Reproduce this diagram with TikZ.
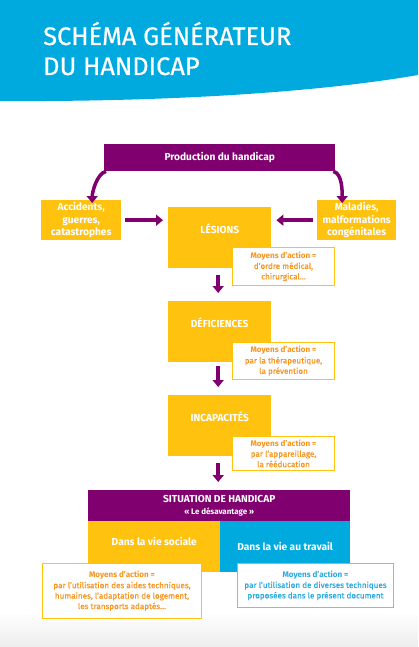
\documentclass[tikz,border=0pt]{standalone}
\usepackage{fontspec}
\setmainfont{Fira Sans}
\newfontfamily\medfont[FakeBold=0.5]{Fira Sans}
\usetikzlibrary{arrows.meta}
\definecolor{cblue}{HTML}{00A9DE}
\definecolor{cyel}{HTML}{FFC20E}
\definecolor{cpur}{HTML}{80006F}
\definecolor{corange}{HTML}{F7941D}
\definecolor{ctxtblue}{HTML}{29A9E0}
\begin{document}
\begin{tikzpicture}[x=1bp,y=-1bp,
  cell/.style={anchor=north west, inner sep=0pt, align=center, text=white,
    font=\bfseries\fontsize{10.2}{12.5}\selectfont},
  ybox/.style={cell, fill=cyel},
  pbox/.style={cell, fill=cpur},
  bbox/.style={cell, fill=cblue},
  stage/.style={ybox, minimum width=103bp, minimum height=61bp, text height=8bp, text depth=16bp},
  moy/.style={anchor=north west, inner sep=0pt, align=center, fill=white, draw=cyel,
    line width=1bp, text=corange, font=\medfont\fontsize{8.1}{10.5}\selectfont},
  arr/.style={draw=cpur, line width=3.5bp, -{Triangle[width=11bp,length=7bp]}}
]
\useasboundingbox (0,0) rectangle (418,647);
\fill[white] (0,0) rectangle (418,647);
\shade[top color=white, bottom color=black!7] (0,612) rectangle (418,647);
\fill[cblue] (0,0) -- (418,0) -- (418,75) .. controls (320,92) and (170,102) .. (0,101) -- cycle;
\node[anchor=base west, text=white, font=\medfont\fontsize{25.5}{30}\selectfont, inner sep=0pt] (t1) at (43,45) {SCHÉMA GÉNÉRATEUR};
\node[anchor=base west, text=white, font=\medfont\fontsize{25.5}{30}\selectfont, inner sep=0pt] (t2) at (43,75) {DU HANDICAP};

\node[pbox, minimum width=231bp, minimum height=27bp] (prod) at (104,144) {Production du handicap};
\node[ybox, minimum width=80bp, minimum height=40bp] (acc) at (41,200) {Accidents,\\guerres,\\catastrophes};
\node[ybox, minimum width=79bp, minimum height=40bp] (mal) at (317,200) {Maladies,\\malformations\\congénitales};

\node[stage] (les) at (168,207) {LÉSIONS};
\node[stage] (def) at (168,301) {DÉFICIENCES};
\node[stage] (inc) at (168,395) {INCAPACITÉS};

\node[moy, minimum width=102bp, minimum height=38bp] (m1) at (232,247) {{\rmfamily\bfseries Moyens d’action =}\\d’ordre médical,\\chirurgical…};
\node[moy, minimum width=102bp, minimum height=37bp] (m2) at (232,342) {{\rmfamily\bfseries Moyens d’action =}\\par la thérapeutique,\\la prévention};
\node[moy, minimum width=102bp, minimum height=34bp] (m3) at (232,436) {{\rmfamily\bfseries Moyens d’action =}\\par l’appareillage,\\la rééducation};

\node[pbox, minimum width=262bp, minimum height=31bp] (sit) at (88,490) {SITUATION DE HANDICAP\\[-1bp]{\fontsize{8}{10}\selectfont « Le désavantage »}};
\node[ybox, minimum width=132bp, minimum height=51bp, text height=8bp, text depth=10bp] (soc) at (88,521) {Dans la vie sociale};
\node[bbox, minimum width=130bp, minimum height=51bp] (trav) at (220,521) {Dans la vie au travail};

\node[moy, minimum width=159bp, minimum height=55bp] (ml) at (42,563) {{\rmfamily\bfseries Moyens d’action =}\\par l’utilisation des aides techniques,\\humaines, l’adaptation de logement,\\les transports adaptés…};
\node[moy, draw=cblue!60, text=ctxtblue, minimum width=156bp, minimum height=44bp] (mr) at (237,563) {{\rmfamily\bfseries Moyens d’action =}\\par l’utilisation de diverses techniques\\proposées dans le présent document};

\draw[arr] ([xshift=2bp]prod.south west) .. controls +(-9,2) and +(0,-11) .. ([xshift=11bp,yshift=-3bp]acc.north);
\draw[arr] ([xshift=-2bp]prod.south east) .. controls +(9,2) and +(0,-11) .. ([xshift=-14.5bp,yshift=-3bp]mal.north);
\draw[arr, shorten <=4bp, shorten >=5bp] (acc.east) -- (acc.east -| les.west);
\draw[arr, shorten <=4bp, shorten >=5bp] (mal.west) -- (mal.west -| les.east);
\draw[arr, shorten <=7bp, shorten >=8bp] ([xshift=-1.5bp]les.south) -- ([xshift=-1.5bp]def.north);
\draw[arr, shorten <=4bp, shorten >=8bp] ([xshift=-1.5bp]def.south) -- ([xshift=-1.5bp]inc.north);
\draw[arr, shorten <=7bp, shorten >=8bp] ([xshift=-1.5bp]inc.south) -- ([xshift=-1.5bp]inc.south |- sit.north);
\end{tikzpicture}
\end{document}
